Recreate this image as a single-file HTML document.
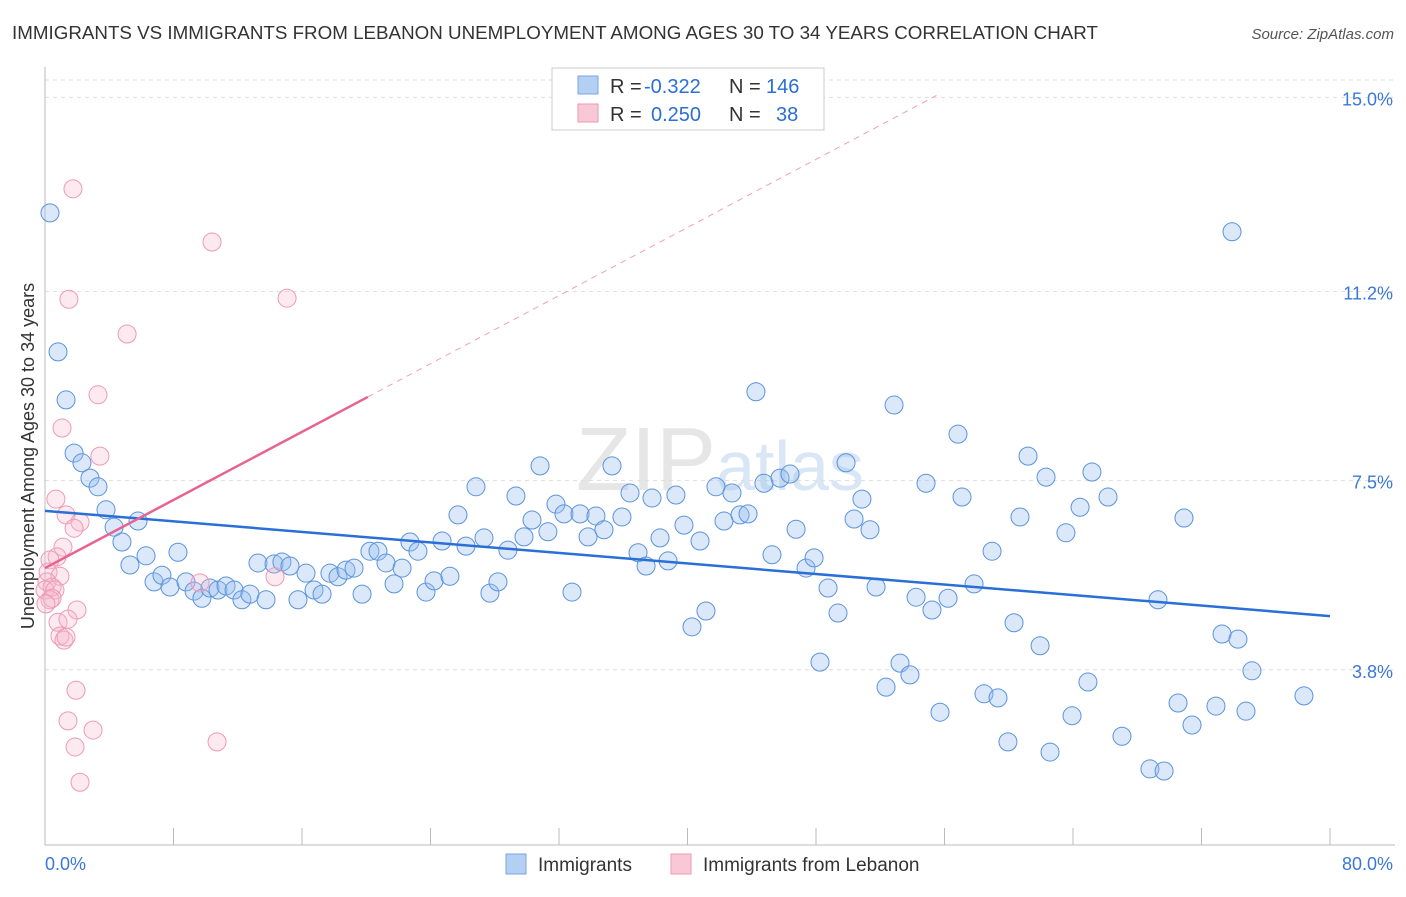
<!DOCTYPE html>
<html><head><meta charset="utf-8"><style>
body{margin:0;background:#fff;font-family:"Liberation Sans",sans-serif;}
svg text{font-family:"Liberation Sans",sans-serif;}
</style></head><body>
<svg id="chart" width="1406" height="892" xmlns="http://www.w3.org/2000/svg">
<text x="12" y="39" font-size="18.5" fill="#333" textLength="1086" lengthAdjust="spacingAndGlyphs">IMMIGRANTS VS IMMIGRANTS FROM LEBANON UNEMPLOYMENT AMONG AGES 30 TO 34 YEARS CORRELATION CHART</text>
<text x="1394" y="39" font-size="15" fill="#555" text-anchor="end" font-style="italic">Source: ZipAtlas.com</text>
<text x="720" y="490" font-size="90" fill="#e6e6e6" text-anchor="middle" font-family="Liberation Serif">ZIP<tspan fill="#d8e6f5" font-family="Liberation Sans" font-size="70">atlas</tspan></text>
<g id="grid"></g>
<g id="axes"></g>
<g id="pts"></g>
<g id="lines"></g>
<g>
<rect x="552" y="68" width="272" height="62" fill="#fff" stroke="#ccc"/>
<rect x="578" y="76" width="20" height="18" fill="#b3cff2" stroke="#7aa6e0"/>
<rect x="578" y="104" width="20" height="18" fill="#f9c8d6" stroke="#ee99b3"/>
<text x="610" y="93" font-size="20" fill="#333">R =</text>
<text x="644" y="93" font-size="20" fill="#2a6fd6">-0.322</text>
<text x="729" y="93" font-size="20" fill="#333">N =</text>
<text x="766" y="93" font-size="20" fill="#2a6fd6">146</text>
<text x="610" y="121" font-size="20" fill="#333">R =</text>
<text x="651" y="121" font-size="20" fill="#2a6fd6">0.250</text>
<text x="729" y="121" font-size="20" fill="#333">N =</text>
<text x="776" y="121" font-size="20" fill="#2a6fd6">38</text>
</g>
<g>
<rect x="506" y="854" width="20" height="20" fill="#b3cff2" stroke="#7aa6e0"/>
<text x="538" y="871" font-size="19" fill="#333">Immigrants</text>
<rect x="671" y="854" width="20" height="20" fill="#f9c8d6" stroke="#ee99b3"/>
<text x="703" y="871" font-size="19" fill="#333">Immigrants from Lebanon</text>
</g>
<text transform="translate(34,456) rotate(-90)" font-size="18" fill="#333" text-anchor="middle">Unemployment Among Ages 30 to 34 years</text>
</svg>
<script>
const blueX=[0.31,0.81,1.31,1.81,2.30,2.80,3.30,3.80,4.30,4.79,5.29,5.79,6.29,6.79,7.28,7.78,8.28,8.78,9.28,9.77,10.27,10.77,11.27,11.77,12.26,12.76,13.26,13.76,14.26,14.75,15.25,15.75,16.25,16.75,17.25,17.74,18.24,18.74,19.24,19.74,20.23,20.73,21.23,21.73,22.23,22.72,23.22,23.72,24.22,24.72,25.21,25.71,26.21,26.83,27.33,27.70,28.20,28.82,29.32,29.82,30.32,30.82,31.31,31.81,32.31,32.81,33.31,33.81,34.30,34.80,35.30,35.92,36.42,36.92,37.42,37.79,38.29,38.79,39.28,39.78,40.28,40.78,41.15,41.77,42.27,42.77,43.27,43.77,44.26,44.76,45.26,45.76,46.38,46.76,47.38,47.88,48.25,48.75,49.37,49.87,50.37,50.86,51.36,51.74,52.36,52.86,53.23,53.85,54.23,54.85,55.22,55.72,56.22,56.84,57.09,57.84,58.46,58.96,59.33,59.95,60.33,60.70,61.20,61.95,62.32,62.57,63.56,63.94,64.44,64.93,65.18,66.18,67.05,68.79,69.67,69.29,70.54,70.91,71.41,72.90,73.28,73.90,74.27,74.77,75.14,78.38];
const blueY=[12.74,10.02,9.08,8.04,7.85,7.55,7.38,6.93,6.59,6.30,5.85,6.71,6.03,5.52,5.65,5.42,6.10,5.52,5.34,5.20,5.40,5.36,5.44,5.36,5.17,5.28,5.89,5.17,5.87,5.91,5.83,5.17,5.69,5.36,5.28,5.69,5.62,5.75,5.79,5.28,6.12,6.12,5.89,5.48,5.79,6.30,6.12,5.32,5.54,6.32,5.63,6.83,6.22,7.38,6.38,5.30,5.52,6.14,7.20,6.40,6.73,7.79,6.50,7.04,6.85,5.32,6.85,6.40,6.81,6.54,7.79,6.79,7.26,6.09,5.83,7.16,6.38,5.93,7.22,6.63,4.64,6.32,4.95,7.38,6.71,7.26,6.83,6.85,9.24,7.45,6.05,7.55,7.63,6.55,5.79,5.99,3.95,5.40,4.91,7.85,6.75,7.14,6.54,5.42,3.46,8.98,3.93,3.70,5.22,7.45,4.97,2.97,5.20,8.41,7.18,5.48,3.33,6.12,3.25,2.39,4.72,6.79,7.98,4.27,7.57,2.19,6.48,2.90,6.98,3.56,7.67,7.18,2.50,1.86,1.82,5.17,3.15,6.77,2.72,3.09,4.50,12.37,4.40,2.99,3.78,3.29];
const pinkX=[1.74,10.40,1.49,15.07,5.11,3.30,1.06,3.42,0.68,1.31,2.18,1.81,1.12,0.75,0.31,0.19,0.93,0.12,0.44,0.00,0.62,0.31,1.99,0.81,1.43,0.93,1.18,1.31,9.65,14.32,1.93,1.43,2.99,1.87,10.71,2.18,0.44,0.06];
const pinkY=[13.21,12.17,11.05,11.07,10.37,9.18,8.53,7.98,7.14,6.83,6.69,6.57,6.20,6.01,5.95,5.71,5.63,5.52,5.42,5.36,5.36,5.17,4.97,4.73,4.79,4.46,4.38,4.44,5.50,5.62,3.40,2.80,2.62,2.29,2.39,1.60,5.20,5.09];
const blueTrend=[6.91,4.85];
const pinkTrend=[5.79,0.1666];
const yTicks=[3.8,7.5,11.2,15.0];
const yTickLabels=["3.8%","7.5%","11.2%","15.0%"];
const xTicks=[0,8,16,24,32,40,48,56,64,72,80];

const NS="http://www.w3.org/2000/svg";
const xs=v=>45+v*(1285/80);
const ys=v=>864-v*51.11;
function mk(tag,attrs,parent){const e=document.createElementNS(NS,tag);for(const k in attrs)e.setAttribute(k,attrs[k]);parent.appendChild(e);return e;}
const grid=document.getElementById('grid'),axes=document.getElementById('axes'),pts=document.getElementById('pts'),lines=document.getElementById('lines');
let tl=mk('line',{x1:45,x2:1395,y1:80,y2:80,stroke:'#ddd','stroke-dasharray':'4,4'},grid);


yTicks.forEach((t,i)=>{
 const g=mk('line',{x1:45,x2:1395,y1:ys(t),y2:ys(t),stroke:'#ddd','stroke-dasharray':'4,4'},grid);
 
 
 const tx=mk('text',{x:1393,y:ys(t)+8,'font-size':18,fill:'#3a78d8','text-anchor':'end'},axes);
 tx.textContent=yTickLabels[i];
 
 
});
let ax=mk('line',{x1:45,x2:45,y1:67,y2:845,stroke:'#bbb'},axes);


let bx=mk('line',{x1:45,x2:1395,y1:845,y2:845,stroke:'#bbb'},axes);


xTicks.forEach(t=>{
 const k=mk('line',{x1:xs(t),x2:xs(t),y1:828,y2:845,stroke:'#bbb'},axes);
 
 
});
let xl0=mk('text',{x:45,y:870,'font-size':18,fill:'#3a78d8'},axes);xl0.textContent='0.0%';


let xl1=mk('text',{x:1393,y:870,'font-size':18,fill:'#3a78d8','text-anchor':'end'},axes);xl1.textContent='80.0%';


blueX.forEach((x,i)=>{
 const c=mk('circle',{cx:xs(x),cy:ys(blueY[i]),r:9,fill:'rgba(150,188,238,0.35)',stroke:'#5b93dd','stroke-width':1},pts);
 
 
});
pinkX.forEach((x,i)=>{
 const c=mk('circle',{cx:xs(x),cy:ys(pinkY[i]),r:9,fill:'rgba(245,185,205,0.3)',stroke:'#ee9ab4','stroke-width':1},pts);
 
 
});
let bl=mk('line',{x1:xs(0),y1:ys(blueTrend[0]),x2:xs(80),y2:ys(blueTrend[1]),stroke:'#2a6fd6','stroke-width':2.5},lines);


const pEnd=20.1,pDash=55.5;
let pl=mk('line',{x1:xs(0),y1:ys(pinkTrend[0]),x2:xs(pEnd),y2:ys(pinkTrend[0]+pinkTrend[1]*pEnd),stroke:'#e86390','stroke-width':2.5},lines);


let pd=mk('line',{x1:xs(pEnd),y1:ys(pinkTrend[0]+pinkTrend[1]*pEnd),x2:xs(pDash),y2:ys(pinkTrend[0]+pinkTrend[1]*pDash),stroke:'#f0a0b8','stroke-width':1,'stroke-dasharray':'6,5'},lines);


</script>
</body></html>
